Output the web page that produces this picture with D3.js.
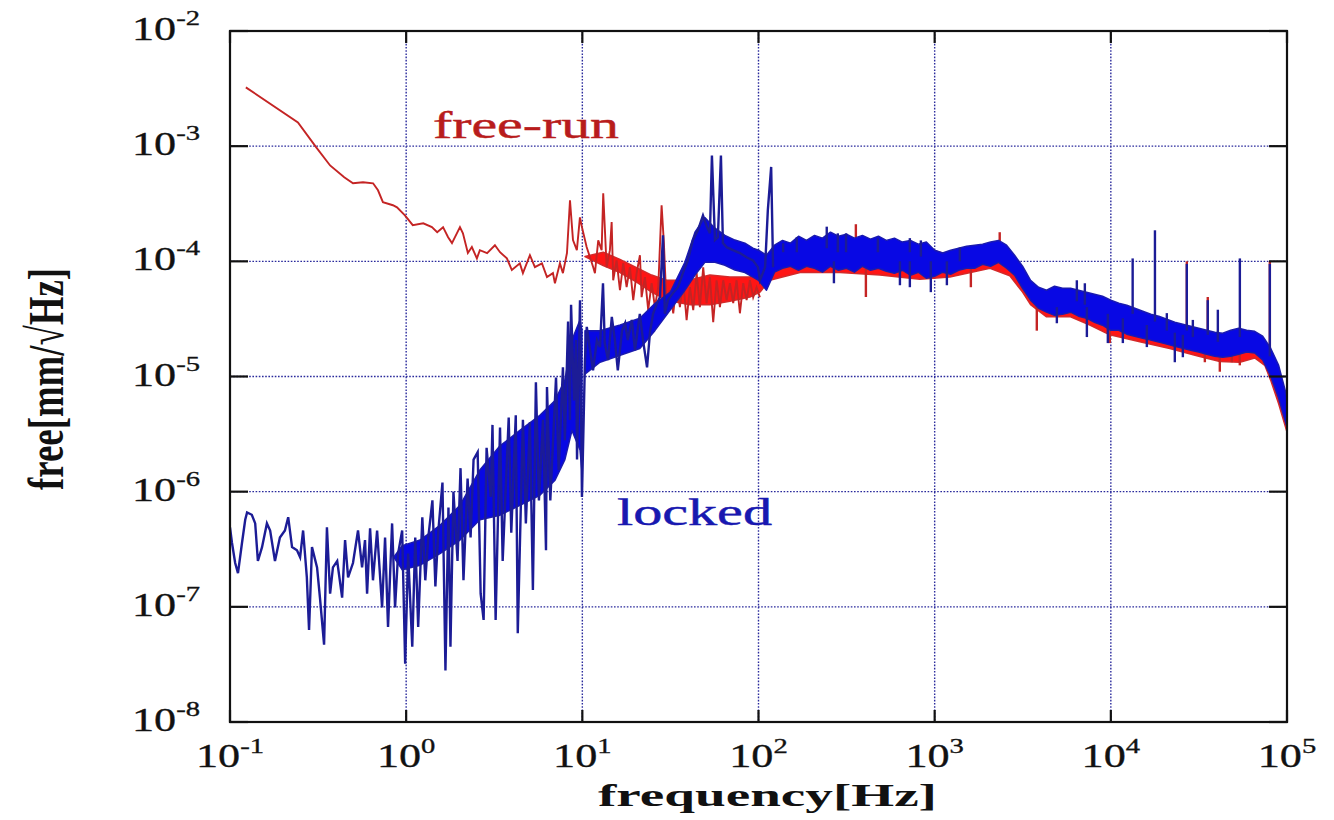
<!DOCTYPE html>
<html>
<head>
<meta charset="utf-8">
<script src="https://cdn.jsdelivr.net/npm/d3@7"></script>
<style>
  html, body { margin: 0; padding: 0; background: #ffffff; }
  svg { display: block; }
</style>
</head>
<body>
<svg id="chart" width="1334" height="820"></svg>
<script>
// ---------------- DATA ----------------
const xTickValues = [0.1, 1, 10, 100, 1000, 10000, 100000];
const xTickExponents = ["-1", "0", "1", "2", "3", "4", "5"];
const yTickValues = [1e-8, 1e-7, 1e-6, 1e-5, 1e-4, 1e-3, 1e-2];
const yTickExponents = ["-8", "-7", "-6", "-5", "-4", "-3", "-2"];

const xTitle = "frequency[Hz]";
const yTitle = "free[mm/√Hz]";
const seriesNames = ["free-run", "locked"];

// free-run (red): [frequency Hz, amplitude]
const redTrace = [
  [0.123,3.24e-3],[0.243,1.61e-3],[0.308,9.8e-4],[0.370,6.8e-4],[0.445,5.37e-4],[0.499,4.76e-4],
  [0.569,4.86e-4],[0.649,4.76e-4],[0.692,4.14e-4],[0.738,3.26e-4],[0.841,3.07e-4],[0.887,2.94e-4],
  [0.984,2.51e-4],[1.09,2.06e-4],[1.25,2.14e-4],[1.40,1.98e-4],[1.50,1.79e-4],[1.62,1.98e-4],
  [1.73,1.62e-4],[1.82,1.44e-4],[2.02,1.98e-4],[2.10,1.75e-4],[2.24,1.18e-4],[2.36,1.33e-4],
  [2.52,1.06e-4],[2.62,1.25e-4],[2.88,1.18e-4],[3.19,1.38e-4],[3.41,1.20e-4],[3.73,1.06e-4],
  [3.98,8.4e-5],[4.42,9.6e-5],[4.60,7.9e-5],[5.04,1.13e-4],[5.38,8.9e-5],[5.90,9.6e-5],
  [6.30,7.3e-5],[6.81,7.9e-5],[6.99,6.45e-5],[7.46,9.6e-5],[7.76,7.9e-5],[8.18,1.18e-4],
  [8.51,3.39e-4],[8.85,1.53e-4],[9.31,1.25e-4],[9.69,2.41e-4],[9.95,1.98e-4],
  [10.58,1.33e-4],[11.04,1.09e-4],[11.53,8.89e-5],[11.79,7.89e-5],[12.31,1.52e-4],[12.87,1.25e-4],
  [13.14,3.9e-4],[13.74,8.89e-5],[14.34,1.25e-4],[14.67,2.19e-4],[14.97,6.85e-5],[15.65,1.02e-4],
  [16.35,5.61e-5],[17.07,9.63e-5],[17.84,5.96e-5],[18.63,8.89e-5],[19.45,4.6e-5],[20.33,7.89e-5],
  [21.23,1.13e-4],[21.70,4.88e-5],[22.67,7.28e-5],[23.66,3.77e-5],[24.74,6.46e-5],[25.82,4.0e-5],
  [26.97,5.96e-5],[28.18,3.07e-4],[29.04,1.44e-4],[30.09,4.0e-5],[31.42,5.61e-5],[32.81,3.54e-5],
  [34.29,6.46e-5],[35.80,4.0e-5],[37.38,6.85e-5],[39.08,3.08e-5],[40.80,5.96e-5],[42.61,3.77e-5],
  [44.54,7.89e-5],[46.49,4.0e-5],[48.55,8.89e-5],[50.75,4.33e-5],[52.99,7.28e-5],[55.33,2.96e-5],
  [57.84,6.85e-5],[60.39,4.0e-5],[63.06,6.85e-5],[65.92,4.6e-5],[68.82,6.46e-5],[71.86,4.33e-5],
  [75.12,6.85e-5],[78.43,3.54e-5],[81.89,6.46e-5],[85.60,4.6e-5],[89.39,6.85e-5],[93.31,4.88e-5],
  [97.54,5.96e-5],[101.8,4.88e-5]
];
// dense noise band: [frequency, low, high]
const redBand = [
  [10.35,1.1e-4,1.1e-4],[13.14,9.2e-5,1.2e-4],[16.35,8.0e-5,1.04e-4],[20.33,6.6e-5,8.8e-5],
  [24.74,5.4e-5,7.6e-5],[30.09,4.6e-5,6.85e-5],[40.8,4.2e-5,6.9e-5],[53.0,4.2e-5,7.6e-5],
  [68.8,4.5e-5,7.3e-5],[89.4,4.9e-5,7.3e-5],[101.8,5.4e-5,9.0e-5],[116,6.85e-5,1.2e-4],
  [172,8.0e-5,1.38e-4],[290,8.0e-5,1.5e-4],[489,7.6e-5,1.45e-4],[824,7.0e-5,1.35e-4],
  [1220,7.3e-5,1.13e-4],[2060,8.7e-5,1.38e-4],[2670,7.5e-5,1.2e-4],[3155,5.4e-5,8.4e-5],
  [3502,4.2e-5,6.4e-5],[4316,3.3e-5,5.2e-5],[5904,3.3e-5,5.4e-5],[7600,2.8e-5,4.9e-5],
  [9870,2.3e-5,4.4e-5],[14600,2.0e-5,3.5e-5],[21600,1.75e-5,2.9e-5],[31550,1.5e-5,2.5e-5],
  [41600,1.35e-5,2.25e-5],[54000,1.33e-5,2.4e-5],[65540,1.45e-5,2.3e-5],[74800,1.25e-5,2.07e-5],
  [80770,9.3e-6,1.6e-5],[89660,5.8e-6,1.15e-5],[100000,3.3e-6,6.0e-6]
];
const redSpikes = [
  [357,1.2e-4,2.1e-4],[407,9e-5,4.9e-5],[1605,9e-5,5.96e-5],[2340,1.2e-4,1.79e-4],
  [3800,4.5e-5,2.5e-5],[9870,3e-5,1.95e-5],[27000,2.5e-5,1.0e-4],[34170,2.0e-5,1.33e-5],
  [35500,2.3e-5,4.9e-5],[41560,2.0e-5,1.1e-5],[48620,2.0e-5,1.33e-5],[53950,2.0e-5,1.25e-5],
  [79900,1.5e-5,1.0e-4]
];

// locked (blue)
const blueTrace = [
  [0.100,4.9e-7],[0.1026,3.6e-7],[0.107,2.4e-7],[0.111,1.96e-7],[0.117,3.6e-7],[0.122,5.7e-7],
  [0.125,6.6e-7],[0.133,6.3e-7],[0.139,5.3e-7],[0.144,2.5e-7],[0.152,3.3e-7],[0.162,5.3e-7],
  [0.169,4.6e-7],[0.180,2.5e-7],[0.192,4.0e-7],[0.205,4.6e-7],[0.214,6.0e-7],[0.225,3.3e-7],
  [0.240,3.1e-7],[0.250,2.7e-7],[0.260,4.6e-7],[0.273,1.8e-7],[0.281,6.3e-8],[0.292,3.3e-7],
  [0.312,2.2e-7],[0.324,1.2e-7],[0.342,4.7e-8],[0.355,4.9e-7],[0.370,1.3e-7],[0.384,2.2e-7],
  [0.406,2.5e-7],[0.433,1.2e-7],[0.450,3.8e-7],[0.468,1.8e-7],[0.499,2.4e-7],[0.533,4.6e-7],
  [0.562,2.2e-7],[0.584,3.8e-7],[0.600,1.3e-7],[0.624,4.8e-7],[0.648,1.7e-7],[0.684,4.6e-7],
  [0.730,9.9e-8],[0.759,4.0e-7],[0.789,6.7e-8],[0.832,5.3e-7],[0.865,9.9e-8],[0.900,2.9e-7],
  [0.949,4.6e-7],[0.987,3.2e-8],[1.026,2.9e-7],[1.083,4.5e-8],[1.126,4.0e-7],[1.170,6.7e-8],
  [1.235,6.0e-7],[1.284,1.7e-7],[1.335,4.0e-7],[1.409,8.4e-7],[1.465,1.5e-7],[1.523,4.6e-7],
  [1.607,1.2e-6],[1.671,2.8e-8],[1.738,7.3e-7],[1.784,4.5e-8],[1.855,1.0e-6],[1.957,2.5e-7],
  [2.035,1.6e-6],[2.115,1.7e-7],[2.232,1.3e-6],[2.321,4.0e-7],[2.413,1.9e-6],[2.546,2.2e-6],
  [2.647,1.3e-7],[2.752,7.7e-8],[2.861,2.4e-6],[3.02,9.0e-7],[3.09,3.8e-6],[3.22,7.7e-8],
  [3.41,3.6e-6],[3.53,2.5e-7],[3.82,4.4e-6],[3.95,4.4e-7],[4.19,4.6e-6],[4.30,5.9e-8],
  [4.60,4.2e-6],[4.78,5.3e-7],[5.04,4.0e-6],[5.24,1.4e-7],[5.45,8.9e-6],[5.67,8.4e-7],
  [5.98,4.2e-6],[6.22,3.1e-7],[6.30,8.1e-6],[6.58,8.4e-7],[7.09,9.8e-6],[7.34,1.54e-6],
  [7.76,1.2e-5],[7.96,2.8e-6],[8.30,3.0e-5],[8.50,4.2e-6],[8.63,4.2e-5],[8.97,6.2e-6],
  [9.21,2.07e-5],[9.33,1.9e-6],[9.70,4.6e-5],[9.95,9.0e-7],
  [10.35,1.39e-5],[10.6,2.7e-5],[11.0,1.8e-5],[11.5,1.13e-5],[12.1,2.07e-5],[12.6,1.8e-5],
  [13.1,6.45e-5],[13.4,1.95e-5],[14.0,1.39e-5],[14.7,3.3e-5],[15.3,2.07e-5],[15.9,1.13e-5],
  [16.8,2.5e-5],[17.5,2.9e-5],[18.1,2.07e-5],[19.1,3.1e-5],[19.9,1.69e-5],[21.2,3.5e-5],
  [22.1,2.07e-5],[23.3,1.2e-5],[24.2,2.4e-5],[25.2,3.5e-5],[26.5,4.3e-5],[27.6,4.9e-5],
  [28.7,1.68e-4],[29.4,3.5e-5],[30.6,4.6e-5],[32.7,5.3e-5],[34.9,5.96e-5],[37.2,7.9e-5],
  [39.7,1.02e-4],[42.4,1.53e-4],[45.3,1.86e-4],[48.4,2.5e-4],[50.9,2.0e-4],[53.0,1.75e-4],
  [54.4,8.3e-4],[56.6,1.53e-4],[58.8,1.62e-4],[61.2,8.3e-4],[62.8,1.44e-4],[66.2,1.32e-4],
  [71.6,1.25e-4],[78.4,1.18e-4],[85.9,1.08e-4],[93.0,1.02e-4],[99.2,8.9e-5],[102,6.85e-5],
  [109,8.9e-5],[113,2.8e-4],[118,6.6e-4],[121,8.9e-5]
];
const blueBandLow = [
  [0.85,2.7e-7,2.7e-7],[0.95,2.1e-7,3.4e-7],[1.20,2.3e-7,3.8e-7],[1.555,2.9e-7,5.1e-7],
  [2.02,3.8e-7,7.6e-7],[2.62,5.7e-7,1.54e-6],[3.41,6.25e-7,2.5e-6],[4.42,7.6e-7,3.4e-6],
  [5.74,9.3e-7,4.6e-6],[7.0,1.26e-6,6.2e-6],[7.96,1.9e-6,9.3e-6],[8.73,3.4e-6,2.07e-5],
  [9.7,2.3e-6,3.1e-5],[9.95,1.5e-6,2.5e-5]
];
const blueBand = [
  [10.35,1.05e-5,2.5e-5],[12.6,1.33e-5,2.5e-5],[16.4,1.53e-5,2.8e-5],[21.2,1.75e-5,3.2e-5],
  [25.8,2.5e-5,4.3e-5],[31.6,3.8e-5,5.4e-5],[38.2,5.6e-5,9.8e-5],[43.6,7.6e-5,1.79e-4],
  [49.6,9.8e-5,2.4e-4],[56.6,9.8e-5,1.94e-4],[64.5,9.25e-5,1.68e-4],[73.5,8.4e-5,1.53e-4],
  [83.7,8.0e-5,1.44e-4],[93,7.3e-5,1.3e-4],
  [100,6.85e-5,1.25e-4],[111,5.61e-5,1.13e-4],[123.3,8.05e-5,1.38e-4],[136.9,8.71e-5,1.52e-4],
  [152,9.07e-5,1.44e-4],[168.7,8.37e-5,1.65e-4],[187.3,9.07e-5,1.52e-4],[207.9,8.71e-5,1.68e-4],
  [230.8,8.05e-5,1.59e-4],[256.2,9.07e-5,1.79e-4],[284.4,8.37e-5,1.65e-4],[315.7,8.71e-5,1.72e-4],
  [350.5,8.05e-5,1.59e-4],[389,9.07e-5,1.68e-4],[432,8.37e-5,1.56e-4],[479.5,8.71e-5,1.65e-4],
  [532,8.2e-5,1.52e-4],[591,7.89e-5,1.59e-4],[656,8.37e-5,1.47e-4],[728,7.58e-5,1.52e-4],
  [808,8.05e-5,1.41e-4],[897,7.13e-5,1.47e-4],[1000,7.42e-5,1.25e-4],[1110,8.05e-5,1.18e-4],
  [1232,7.73e-5,1.25e-4],[1368,8.37e-5,1.30e-4],[1518,8.71e-5,1.35e-4],[1686,8.71e-5,1.38e-4],
  [1871,9.43e-5,1.41e-4],[2077,9.07e-5,1.47e-4],[2306,9.8e-5,1.52e-4],[2560,8.71e-5,1.38e-4],
  [2842,7.58e-5,1.13e-4],[3155,5.84e-5,9.07e-5],[3502,4.6e-5,6.85e-5],[3888,3.91e-5,5.96e-5],
  [4316,3.62e-5,5.61e-5],[4791,3.40e-5,6.08e-5],[5319,3.47e-5,5.84e-5],[5904,3.62e-5,5.84e-5],
  [6554,3.34e-5,5.61e-5],[7276,3.21e-5,5.39e-5],[8077,2.96e-5,5.18e-5],[8966,2.79e-5,4.98e-5],
  [10000,2.52e-5,4.6e-5],[11100,2.52e-5,4.33e-5],[12320,2.33e-5,4.16e-5],[13680,2.24e-5,3.91e-5],
  [15180,2.15e-5,3.69e-5],[16860,2.07e-5,3.47e-5],[18710,1.99e-5,3.34e-5],[20770,1.91e-5,3.14e-5],
  [23060,1.83e-5,2.96e-5],[25600,1.76e-5,2.84e-5],[28420,1.69e-5,2.73e-5],[31550,1.63e-5,2.62e-5],
  [35020,1.56e-5,2.52e-5],[38880,1.50e-5,2.42e-5],[43160,1.47e-5,2.38e-5],[47910,1.50e-5,2.52e-5],
  [53190,1.56e-5,2.62e-5],[59040,1.63e-5,2.52e-5],[65540,1.60e-5,2.47e-5],[72760,1.39e-5,2.24e-5],
  [80770,1.01e-5,1.76e-5],[89660,6.48e-6,1.25e-5],[100000,3.63e-6,6.61e-6]
];
const blueSpikes = [
  [138,1.2e-4,1.44e-4],[165,1.2e-4,1.62e-4],[244,1.3e-4,2.0e-4],[282,1.2e-4,1.75e-4],
  [314,1.2e-4,1.75e-4],[476,1.2e-4,1.59e-4],[723,1.2e-4,1.59e-4],[835,1.1e-4,1.52e-4],
  [1390,1.0e-4,1.32e-4],[6412,4.5e-5,6.85e-5],[7120,4.2e-5,6.45e-5],[13300,3.5e-5,1.06e-4],
  [17800,3.0e-5,1.86e-4],[20790,2.5e-5,3.55e-5],[27000,2.5e-5,9.5e-5],[29210,2.2e-5,3.1e-5],
  [35500,2.3e-5,4.6e-5],[40500,2.0e-5,3.8e-5],[54000,2.2e-5,1.06e-4],[79900,1.5e-5,9.5e-5],
  [268,1.0e-4,6.45e-5],[635,1.0e-4,6.2e-5],[723,1.0e-4,5.96e-5],[951,1.0e-4,5.4e-5],
  [1173,1.0e-4,6.2e-5],[4938,4.0e-5,2.9e-5],[7311,4.0e-5,2.2e-5],[9616,3.5e-5,1.95e-5],
  [11700,3.2e-5,1.95e-5],[16010,2.8e-5,1.8e-5],[23080,2.4e-5,1.33e-5],[25630,2.3e-5,1.47e-5]
];

// ---------------- DRAWING ----------------
const svg = d3.select("#chart");
const plot = { left: 230, right: 1287, top: 31, bottom: 722 };
const x = d3.scaleLog().domain([0.1, 1e5]).range([plot.left, plot.right]);
const y = d3.scaleLog().domain([1e-8, 1e-2]).range([plot.bottom, plot.top]);
const serif = "'Liberation Serif', 'Times New Roman', serif";

svg.append("rect").attr("width", 1334).attr("height", 820).attr("fill", "#fff");

svg.append("defs").append("clipPath").attr("id", "clip")
  .append("rect").attr("x", plot.left).attr("y", plot.top)
  .attr("width", plot.right - plot.left).attr("height", plot.bottom - plot.top);

// grid
const grid = svg.append("g");
grid.selectAll("line.gx").data(xTickValues.slice(1, -1)).join("line")
  .attr("x1", d => x(d)).attr("x2", d => x(d))
  .attr("y1", plot.top).attr("y2", plot.bottom)
  .attr("stroke", "#2a2a9c").attr("stroke-width", 1.4).attr("stroke-dasharray", "1.6 1.6");
grid.selectAll("line.gy").data(yTickValues.slice(1, -1)).join("line")
  .attr("y1", d => y(d)).attr("y2", d => y(d))
  .attr("x1", plot.left).attr("x2", plot.right)
  .attr("stroke", "#2a2a9c").attr("stroke-width", 1.4).attr("stroke-dasharray", "1.6 1.6");

const data = svg.append("g").attr("clip-path", "url(#clip)");
const line = d3.line().x(d => x(d[0])).y(d => y(d[1]));
const band = d3.area().x(d => x(d[0])).y0(d => y(d[1])).y1(d => y(d[2]));

function drawSeries(bands, trace, spikes, fill, edge, lineColor, lw) {
  bands.forEach(b => {
    data.append("path").datum(b).attr("d", band)
      .attr("fill", fill).attr("stroke", edge).attr("stroke-width", 1.5)
      .attr("stroke-linejoin", "round");
  });
  data.append("path").datum(trace).attr("d", line)
    .attr("fill", "none").attr("stroke", lineColor).attr("stroke-width", lw)
    .attr("stroke-linejoin", "miter");
  data.selectAll(null).data(spikes).join("line")
    .attr("x1", d => x(d[0])).attr("x2", d => x(d[0]))
    .attr("y1", d => y(d[1])).attr("y2", d => y(d[2]))
    .attr("stroke", lineColor).attr("stroke-width", 2.4);
}
drawSeries([redBand], redTrace, redSpikes, "#ff1515", "#d42a2a", "#c42424", 1.9);
drawSeries([blueBandLow, blueBand], blueTrace, blueSpikes, "#0808e4", "#1a1ab0", "#1c1c96", 2.4);

// frame and ticks
const frame = svg.append("g").attr("stroke", "#111").attr("stroke-width", 2.2).attr("fill", "none");
frame.append("rect").attr("x", plot.left).attr("y", plot.top)
  .attr("width", plot.right - plot.left).attr("height", plot.bottom - plot.top);
xTickValues.forEach(v => {
  frame.append("line").attr("x1", x(v)).attr("x2", x(v)).attr("y1", plot.bottom).attr("y2", plot.bottom - 12);
  frame.append("line").attr("x1", x(v)).attr("x2", x(v)).attr("y1", plot.top).attr("y2", plot.top + 12);
});
yTickValues.forEach(v => {
  frame.append("line").attr("y1", y(v)).attr("y2", y(v)).attr("x1", plot.left).attr("x2", plot.left + 18);
  frame.append("line").attr("y1", y(v)).attr("y2", y(v)).attr("x1", plot.right).attr("x2", plot.right - 18);
});

// tick labels
yTickValues.forEach((v, i) => {
  const g = svg.append("g").attr("transform", `translate(200,${y(v) + 9}) scale(1.3,1)`);
  const t = g.append("text").attr("text-anchor", "end").attr("font-family", serif)
    .attr("fill", "#111").attr("stroke", "#111").attr("stroke-width", 0.35);
  t.append("tspan").attr("font-size", 34).text("10");
  t.append("tspan").attr("font-size", 22).attr("dy", -15).text(yTickExponents[i]);
});
xTickValues.forEach((v, i) => {
  const g = svg.append("g").attr("transform", `translate(${x(v)},767) scale(1.3,1)`);
  const t = g.append("text").attr("text-anchor", "middle").attr("font-family", serif)
    .attr("fill", "#111").attr("stroke", "#111").attr("stroke-width", 0.35);
  t.append("tspan").attr("font-size", 34).text("10");
  t.append("tspan").attr("font-size", 22).attr("dy", -14).text(xTickExponents[i]);
});

// axis titles
svg.append("text").attr("x", 598).attr("y", 806)
  .attr("font-family", serif).attr("font-weight", "bold").attr("font-size", 31).attr("fill", "#111")
  .attr("textLength", 339).attr("lengthAdjust", "spacingAndGlyphs").text(xTitle);
svg.append("g").attr("transform", "translate(63,379) rotate(-90) scale(1,1.35)")
  .append("text").attr("text-anchor", "middle")
  .attr("font-family", serif).attr("font-weight", "bold").attr("font-size", 38).attr("fill", "#111")
  .attr("textLength", 222).attr("lengthAdjust", "spacingAndGlyphs").text(yTitle);

// series annotations
svg.append("text").attr("x", 433).attr("y", 138)
  .attr("font-family", serif).attr("font-size", 38).attr("fill", "#b81c1c")
  .attr("stroke", "#b81c1c").attr("stroke-width", 0.45)
  .attr("textLength", 186).attr("lengthAdjust", "spacingAndGlyphs").text(seriesNames[0]);
svg.append("text").attr("x", 617).attr("y", 525)
  .attr("font-family", serif).attr("font-size", 38).attr("fill", "#1818b0")
  .attr("stroke", "#1818b0").attr("stroke-width", 0.45)
  .attr("textLength", 155).attr("lengthAdjust", "spacingAndGlyphs").text(seriesNames[1]);
</script>
</body>
</html>
